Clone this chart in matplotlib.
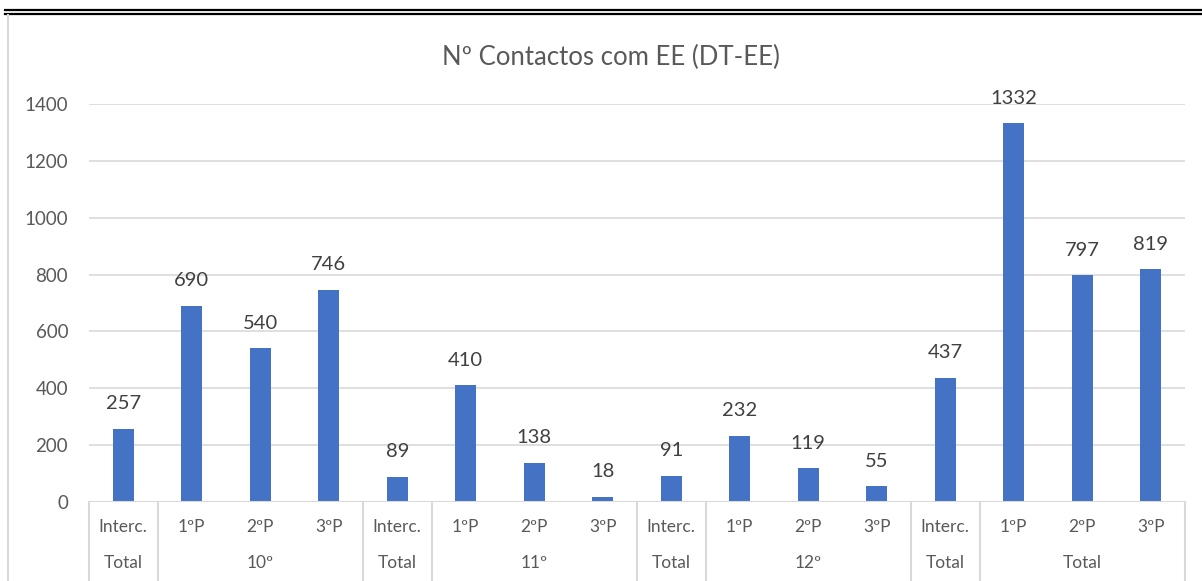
import matplotlib
matplotlib.use("Agg")
import matplotlib.pyplot as plt
from matplotlib.lines import Line2D

periods = ["Interc.", "1ºP", "2ºP", "3ºP"] * 4
groups = ["Total", "10º", "Total", "11º", "Total", "12º", "Total", "Total"]
group_spans = [(0, 0), (1, 3), (4, 4), (5, 7), (8, 8), (9, 11), (12, 12), (13, 15)]
values = [257, 690, 540, 746,
          89, 410, 138, 18,
          91, 232, 119, 55,
          437, 1332, 797, 819]
yticks = [0, 200, 400, 600, 800, 1000, 1200, 1400]
title = "Nº Contactos com EE (DT-EE)"

plt.rcParams['font.family'] = ['Lato', 'DejaVu Sans']
W, H = 1202, 581
fig = plt.figure(figsize=(W / 100, H / 100), dpi=100)
L, R, B, T = 89, 1185, 502, 104
ax = fig.add_axes([L / W, 1 - B / H, (R - L) / W, (B - T) / H])

bar_color = "#4472C4"
text_col = "#595959"
grid_col = "#D9D9D9"
n = len(values)
x = list(range(n))
ax.bar(x, values, width=0.31, color=bar_color, zorder=3)
for xi, v in zip(x, values):
    ax.annotate(str(v), (xi, v), xytext=(0, 12), textcoords="offset points",
                ha="center", va="bottom", fontsize=14.5, color="#404040")

ax.set_xlim(-0.5, n - 0.5)
ax.set_ylim(0, 1400)
ax.set_yticks(yticks)
ax.set_yticklabels([str(t) for t in yticks], fontsize=13.5, color=text_col)
ax.tick_params(axis="y", length=0, pad=15)
ax.set_xticks([])
ax.grid(axis="y", color=grid_col, linewidth=1.2, zorder=0)
for s in ax.spines.values():
    s.set_visible(False)
ax.axhline(0, color=grid_col, linewidth=1.5, zorder=4)

# two-level category axis
def fx(xd):
    return (L + (xd + 0.5) * (R - L) / n) / W

def fy(py):
    return 1 - py / H

bounds = set()
for a, b in group_spans:
    bounds.add(a - 0.5)
    bounds.add(b + 0.5)
for bd in sorted(bounds):
    fig.add_artist(Line2D([fx(bd), fx(bd)], [fy(502), fy(581)], color=grid_col, linewidth=1.5))
for xi, p in zip(x, periods):
    fig.text(fx(xi), fy(527), p, ha="center", va="center", fontsize=12.5, color=text_col)
for (a, b), g in zip(group_spans, groups):
    fig.text(fx((a + b) / 2), fy(563), g, ha="center", va="center", fontsize=12.5, color=text_col)

fig.text(611 / W, fy(57), title, ha="center", va="center", fontsize=18.5, color=text_col)

# chart border decorations
fig.add_artist(Line2D([5 / W, 1], [fy(9.5), fy(9.5)], color="black", linewidth=1.6))
fig.add_artist(Line2D([5 / W, 1], [fy(13.5), fy(13.5)], color="black", linewidth=1.6))
fig.add_artist(Line2D([7.5 / W, 7.5 / W], [fy(15), 0], color=grid_col, linewidth=1.5))

fig.savefig("out.png", dpi=100)
